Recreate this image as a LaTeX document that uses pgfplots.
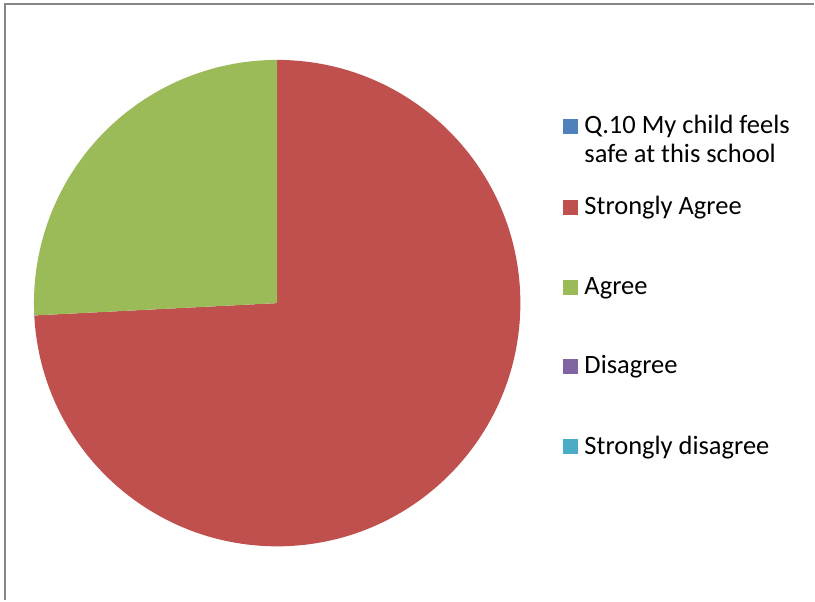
\documentclass[border=0pt]{standalone}
\usepackage{pgfplots}
\usepackage{pgfplotstable}
\pgfplotsset{compat=1.18}
\usetikzlibrary{calc}
\usepackage{fontspec}
\setmainfont{Carlito}
\definecolor{cQ}{HTML}{4F81BD}
\definecolor{cSA}{HTML}{C0504D}
\definecolor{cA}{HTML}{9BBB59}
\definecolor{cD}{HTML}{8064A2}
\definecolor{cSD}{HTML}{4BACC6}
\definecolor{frame}{HTML}{868686}
\pgfplotstableread{
cat value
SA 23
A 8
D 0
SD 0
}\piedata
\begin{document}
\begin{tikzpicture}
\pgfplotstablegetelem{0}{value}\of\piedata \edef\vSA{\pgfplotsretval}
\pgfplotstablegetelem{1}{value}\of\piedata \edef\vA{\pgfplotsretval}
\pgfplotstablegetelem{2}{value}\of\piedata \edef\vD{\pgfplotsretval}
\pgfplotstablegetelem{3}{value}\of\piedata \edef\vSD{\pgfplotsretval}
\pgfmathsetmacro{\tot}{\vSA+\vA+\vD+\vSD}
\pgfmathsetmacro{\aOne}{90-\vSA/\tot*360}
\pgfmathsetmacro{\aTwo}{\aOne-\vA/\tot*360}
\begin{axis}[hide axis, scale only axis, width=815bp, height=601bp,
  xmin=0, xmax=815, ymin=0, ymax=601, enlargelimits=false, clip=false]
\addplot[draw=none] coordinates {(0,0) (815,601)};
\fill[cSA] (axis cs:277.5,297.5) -- (axis cs:277.5,541) arc[start angle=90, end angle=\aOne, radius=243.5bp] -- cycle;
\fill[cA] (axis cs:277.5,297.5) -- ($(axis cs:277.5,297.5)+(\aOne:243.5bp)$) arc[start angle=\aOne, end angle=\aTwo, radius=243.5bp] -- cycle;
\draw[frame, line width=2bp] (axis cs:5,0) -- (axis cs:5,596.5) -- (axis cs:815,596.5);
% legend
\fill[cQ]  (axis cs:564,467) rectangle (axis cs:579,482);
\fill[cSA] (axis cs:564,386) rectangle (axis cs:579,401);
\fill[cA]  (axis cs:564,306) rectangle (axis cs:579,321);
\fill[cD]  (axis cs:564,227) rectangle (axis cs:579,242);
\fill[cSD] (axis cs:564,146) rectangle (axis cs:579,161);
\begin{scope}[every node/.style={anchor=base west, inner sep=0pt, font=\fontsize{26.5bp}{29bp}\selectfont}]
\node at (axis cs:585,467) {Q.10 My child feels};
\node at (axis cs:585,438) {safe at this school};
\node at (axis cs:585,386) {Strongly Agree};
\node at (axis cs:585,306) {Agree};
\node at (axis cs:585,227) {Disagree};
\node at (axis cs:585,146) {Strongly disagree};
\end{scope}
\end{axis}
\end{tikzpicture}
\end{document}
